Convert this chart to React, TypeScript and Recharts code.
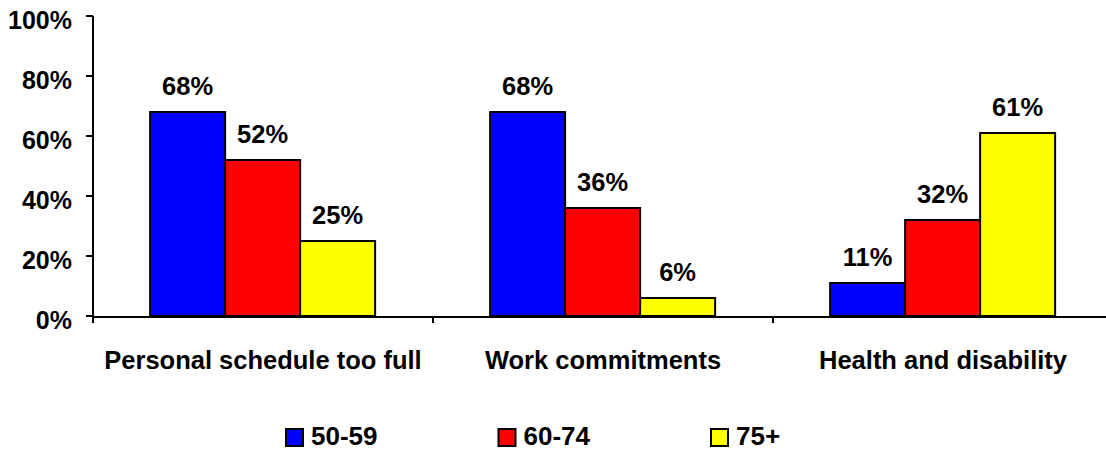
import { Bar, BarChart, LabelList, XAxis, YAxis } from 'recharts';

const categories = ['Personal schedule too full', 'Work commitments', 'Health and disability'];
const age5059 = [68, 68, 11];
const age6074 = [52, 36, 32];
const age75 = [25, 6, 61];
const yTicks = [0, 20, 40, 60, 80, 100];
const groupEdges = [0, 1, 2, 3];

const seriesList = [
    { key: '50-59', values: age5059, color: '#0000ff' },
    { key: '60-74', values: age6074, color: '#ff0000' },
    { key: '75+', values: age75, color: '#ffff00' },
];

const data = categories.map((name, i) => {
    const row: Record<string, string | number> = { name };
    seriesList.forEach(s => { row[s.key] = s.values[i]; });
    return row;
});

const FONT = '"Liberation Sans", Arial, sans-serif';

const YTick = ({ x, y, payload }: any) => (
    <text x={x} y={y} dy={13} textAnchor="end" fontFamily={FONT} fontWeight="bold" fontSize={25} fill="#000">
        {payload.value}%
    </text>
);

const CatTick = ({ x, y, payload }: any) => (
    <text x={x} y={y} dy={52} textAnchor="middle" fontFamily={FONT} fontWeight="bold" fontSize={25.5} fill="#000">
        {payload.value}
    </text>
);

const App = () => {
    return (
        <div style={{ position: 'absolute', left: 0, top: 0, width: 1106, height: 451, overflow: 'hidden', background: '#fff' }}>
            <BarChart
                width={1120}
                height={451}
                data={data}
                margin={{ top: 16, right: 7, left: 0, bottom: 0 }}
                barCategoryGap="16.8%"
                barGap={0}
            >
                <XAxis
                    xAxisId="b"
                    dataKey="name"
                    height={134}
                    tickSize={0}
                    tickMargin={0}
                    tickLine={false}
                    axisLine={{ stroke: '#000', strokeWidth: 2 }}
                    tick={<CatTick />}
                    interval={0}
                />
                <XAxis
                    xAxisId="a"
                    dataKey="edge"
                    type="number"
                    domain={[0, 3]}
                    ticks={groupEdges}
                    allowDataOverflow
                    height={1}
                    tickFormatter={() => ''}
                    axisLine={false}
                    tickSize={7}
                    tickLine={{ stroke: '#000', strokeWidth: 2 }}
                    stroke="#000"
                />
                <YAxis
                    width={93}
                    domain={[0, 100]}
                    ticks={yTicks}
                    tickSize={7}
                    tickMargin={14}
                    axisLine={{ stroke: '#000', strokeWidth: 2 }}
                    tickLine={{ stroke: '#000', strokeWidth: 2 }}
                    tick={<YTick />}
                />
                {seriesList.map(s => (
                    <Bar
                        key={s.key}
                        xAxisId="b"
                        dataKey={s.key}
                        fill={s.color}
                        stroke="#000"
                        strokeWidth={2}
                        isAnimationActive={false}
                    >
                        <LabelList
                            dataKey={s.key}
                            position="top"
                            offset={17}
                            formatter={(v: any) => `${v}%`}
                            style={{ fontFamily: FONT, fontWeight: 'bold', fontSize: 25.5, fill: '#000' }}
                        />
                    </Bar>
                ))}
            </BarChart>
            <svg width={1106} height={451} style={{ position: 'absolute', left: 0, top: 0, pointerEvents: 'none' }}>
                {seriesList.map((s, i) => (
                    <g key={s.key} transform={`translate(${286 + i * 212.5}, 0)`}>
                        <rect x={0} y={429} width={17} height={17} fill={s.color} stroke="#000" strokeWidth={2} />
                        <text x={25} y={445} fontFamily={FONT} fontWeight="bold" fontSize={26} fill="#000">{s.key}</text>
                    </g>
                ))}
            </svg>
        </div>
    );
};

export default App;
